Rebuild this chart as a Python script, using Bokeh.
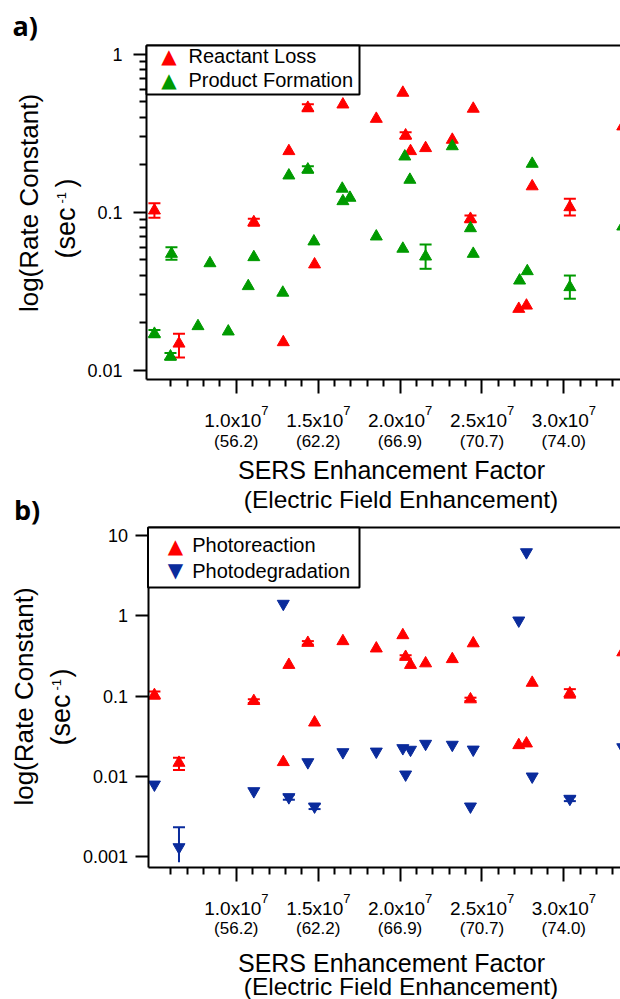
import math
from bokeh.plotting import figure
from bokeh.models import (Range1d, FixedTicker, CustomJSTickFormatter, Label, LinearAxis,
                          LogAxis, LogScale, BoxAnnotation, Whisker, TeeHead, ColumnDataSource,
                          Grid)
from bokeh.embed import file_html
from bokeh.resources import INLINE

SCALE = 1e7  # x values are given in units of 1e7 (SERS enhancement factor)

# ---------------- data ----------------
# Reactant loss (panel a) == photoreaction (panel b), red
loss_x = [0.50, 0.65, 1.107, 1.287, 1.321, 1.437, 1.478, 1.651, 1.855, 2.017, 2.034,
          2.064, 2.156, 2.319, 2.430, 2.447, 2.725, 2.772, 2.807, 3.037, 3.36]
loss_k = [0.1026, 0.0147, 0.0865, 0.0150, 0.244, 0.459, 0.0467, 0.482, 0.391, 0.572, 0.307,
          0.244, 0.255, 0.288, 0.0908, 0.453, 0.0244, 0.0256, 0.146, 0.1076, 0.35]
loss_err_x = [0.50, 0.65, 1.107, 1.437, 2.034, 2.430, 3.037]
loss_err_lo = [0.0922, 0.0120, 0.082, 0.436, 0.292, 0.0865, 0.0953]
loss_err_hi = [0.114, 0.0170, 0.091, 0.483, 0.322, 0.0953, 0.1217]

# Product formation (panel a), green
form_x = [0.50, 0.598, 0.604, 0.766, 0.839, 0.951, 1.073, 1.107, 1.284, 1.321, 1.437, 1.474,
          1.647, 1.651, 1.694, 1.855, 2.017, 2.029, 2.060, 2.156, 2.319, 2.430, 2.447, 2.730,
          2.777, 2.807, 3.037, 3.36]
form_k = [0.01696, 0.01218, 0.0545, 0.01896, 0.0475, 0.01754, 0.0340, 0.0519, 0.0309, 0.171,
          0.1866, 0.0653, 0.141, 0.1175, 0.1235, 0.0702, 0.0587, 0.2256, 0.1606, 0.0524, 0.262,
          0.0792, 0.0545, 0.0369, 0.0423, 0.2028, 0.0335, 0.0812]
form_err_x = [0.50, 0.598, 0.604, 1.437, 2.156, 3.037]
form_err_lo = [0.0161, 0.0116, 0.0500, 0.178, 0.0438, 0.0283]
form_err_hi = [0.0179, 0.0128, 0.0600, 0.196, 0.0625, 0.0397]

# Photodegradation (panel b), blue
degr_x = [0.50, 0.65, 1.107, 1.287, 1.321, 1.437, 1.478, 1.651, 1.855, 2.017, 2.034,
          2.064, 2.156, 2.319, 2.430, 2.447, 2.725, 2.772, 2.807, 3.037, 3.36]
degr_k = [0.00788, 0.001306, 0.00652, 1.41, 0.00548, 0.01496, 0.0042, 0.01995, 0.0203, 0.0224,
          0.01052, 0.0214, 0.0254, 0.0247, 0.0042, 0.0215, 0.873, 6.19, 0.00993, 0.00524, 0.023]
degr_err_x = [1.321, 1.478, 3.037]
degr_err_lo = [0.0051, 0.0039, 0.0049]
degr_err_hi = [0.0059, 0.0045, 0.0056]
degr_bar_x = [0.65]
degr_bar_lo = [0.00085]
degr_bar_hi = [0.00232]

# ticks / labels
xtick_e7 = [1.0, 1.5, 2.0, 2.5, 3.0]
xtick_factor = ["1.0x10", "1.5x10", "2.0x10", "2.5x10", "3.0x10"]
xtick_exp = ["7", "7", "7", "7", "7"]
xtick_field = ["(56.2)", "(62.2)", "(66.9)", "(70.7)", "(74.0)"]
xminor_e7 = [0.6, 0.7, 0.8, 0.9, 1.1, 1.2, 1.3, 1.4, 1.6, 1.7, 1.8, 1.9, 2.1, 2.2, 2.3, 2.4,
             2.6, 2.7, 2.8, 2.9, 3.1, 3.2, 3.3]
ya_major = [0.01, 0.1, 1]
ya_minor = [0.02, 0.03, 0.04, 0.05, 0.06, 0.07, 0.08, 0.09,
            0.2, 0.3, 0.4, 0.5, 0.6, 0.7, 0.8, 0.9]
yb_major = [0.001, 0.01, 0.1, 1, 10]

legend_a = ["Reactant Loss", "Product Formation"]
legend_b = ["Photoreaction", "Photodegradation"]
x_title = ["SERS Enhancement Factor", "(Electric Field Enhancement)"]
y_title = "log(Rate Constant)"

RED = "#FF0000"
GREEN = "#009A00"
BLUE = "#0A2B9C"
FONT = "Liberation Sans"
W, H = 620, 999


# ---------------- pixel <-> data helpers (layout only) ----------------
def xs(px):
    return (1 + (px - 235.8) / 163.75) * SCALE


def ya(py):  # panel a log scale: 1 at y=54, 0.01 at y=369.5
    return 10 ** (-(py - 54) / 157.75)


def yb(py):  # panel b log scale: 10 at y=535, 0.001 at y=856
    return 10 ** (1 - (py - 535) / 80.25)


p = figure(width=W, height=H, x_range=Range1d(xs(0), xs(W)), y_range=Range1d(ya(H), ya(0)),
           y_axis_type="log", x_axis_location=None, y_axis_location=None,
           output_backend="svg", toolbar_location=None, min_border=0,
           outline_line_color=None)
p.title.visible = False
for g in p.select(type=Grid):
    g.visible = False
p.renderers = [r for r in p.renderers if not isinstance(r, Grid)]
p.extra_y_ranges = {"b": Range1d(yb(H), yb(0))}
p.extra_y_scales = {"b": LogScale()}


def style_axis(ax, tout, mout, minor=True):
    ax.axis_line_color = "black"
    ax.axis_line_width = 2
    ax.major_tick_line_color = "black"
    ax.major_tick_line_width = 2
    ax.minor_tick_line_color = "black" if minor else None
    ax.minor_tick_line_width = 2
    ax.major_tick_in = 0
    ax.major_tick_out = tout
    ax.minor_tick_in = 0
    ax.minor_tick_out = mout


def build_axes(rname, yfun, left_px, top_px, bottom_px, y_major, y_minor, standoff):
    # left (log) axis
    yax = LogAxis(y_range_name=rname, fixed_location=xs(left_px),
                  bounds=(yfun(bottom_px), yfun(top_px)),
                  ticker=FixedTicker(ticks=y_major, minor_ticks=y_minor),
                  formatter=CustomJSTickFormatter(code="return String(+tick.toPrecision(3));"))
    style_axis(yax, 13, 7, minor=bool(y_minor))
    yax.major_label_text_font = FONT
    yax.major_label_text_font_size = "18px"
    yax.major_label_text_color = "black"
    yax.major_label_standoff = standoff
    p.add_layout(yax, "left")
    # bottom axis (ticks + field-enhancement labels)
    xax = LinearAxis(y_range_name=rname, fixed_location=yfun(bottom_px),
                     bounds=(xs(left_px), xs(W)),
                     ticker=FixedTicker(ticks=[v * SCALE for v in xtick_e7],
                                        minor_ticks=[v * SCALE for v in xminor_e7]),
                     formatter=CustomJSTickFormatter(args=dict(labels=xtick_field),
                                                     code="return labels[index];"))
    style_axis(xax, 14, 7)
    xax.major_label_text_font = FONT
    xax.major_label_text_font_size = "17px"
    xax.major_label_text_color = "black"
    xax.major_label_standoff = 38
    p.add_layout(xax, "below")
    # top frame line
    tax = LinearAxis(y_range_name=rname, fixed_location=yfun(top_px),
                     bounds=(xs(left_px), xs(W)), ticker=FixedTicker(ticks=[]))
    style_axis(tax, 0, 0, minor=False)
    p.add_layout(tax, "above")


def add_err(xv, lo, hi, color, rname="default", lower_head=True):
    src = ColumnDataSource(dict(x=[v * SCALE for v in xv], lo=lo, hi=hi))
    p.add_layout(Whisker(source=src, base="x", lower="lo", upper="hi", dimension="height",
                         y_range_name=rname, line_color=color, line_width=2,
                         upper_head=TeeHead(size=12, line_color=color, line_width=2),
                         lower_head=(TeeHead(size=12, line_color=color, line_width=2)
                                     if lower_head else None)))


def put(X, Y, text, size, font=FONT, color="black", align="left", style="normal",
        angle=0.0):
    # X, Y: page pixels (Y = visual middle of the text line)
    p.add_layout(Label(x=X, y=H - Y, x_units="screen", y_units="screen", text=text,
                       text_font=font, text_font_size=f"{size}px", text_color=color,
                       text_align=align, text_baseline="middle", text_font_style=style,
                       angle=angle))


def put_xticks(base_mid, sup_mid):
    for v, f, e in zip(xtick_e7, xtick_factor, xtick_exp):
        p.add_layout(Label(x=v * SCALE, x_units="data", y=H - base_mid, y_units="screen",
                           x_offset=-3.5, text=f, text_font=FONT, text_font_size="19px",
                           text_align="center", text_baseline="middle", text_color="black"))
        p.add_layout(Label(x=v * SCALE, x_units="data", y=H - sup_mid, y_units="screen",
                           x_offset=25, text=e, text_font=FONT, text_font_size="13px",
                           text_align="left", text_baseline="middle", text_color="black"))


def legend_box(left_px, right_px, top_px, bottom_px):
    p.add_layout(BoxAnnotation(left=xs(left_px), right=xs(right_px), top=ya(top_px),
                               bottom=ya(bottom_px), fill_color="white", fill_alpha=1.0,
                               line_color="black", line_alpha=1.0, line_width=2))


# ---------------- panel a ----------------
build_axes("default", ya, 146, 45, 379, ya_major, ya_minor, 11)
add_err(loss_err_x, loss_err_lo, loss_err_hi, RED)
add_err(form_err_x, form_err_lo, form_err_hi, GREEN)
p.scatter([v * SCALE for v in loss_x], loss_k, marker="triangle", size=12,
          fill_color=RED, line_color=RED, line_width=1)
p.scatter([v * SCALE for v in form_x], form_k, marker="triangle", size=12,
          fill_color=GREEN, line_color=GREEN, line_width=1)

legend_box(146, 359, 45, 94)
put(168.5, 55.8, "\u25B2", 20, font="DejaVu Sans", color=RED, align="center")
put(168.5, 79.2, "\u25B2", 20, font="DejaVu Sans", color=GREEN, align="center")
put(188, 55.7, legend_a[0], 20)
put(188, 79.0, legend_a[1], 20)

put_xticks(420.4, 410.4)
put(391, 469.3, x_title[0], 25, align="center")
put(400.5, 498.6, x_title[1], 24.5, align="center")

put(28.4, 202.5, y_title, 26, align="center", angle=math.pi / 2)
put(65.0, 258, "(sec", 27, angle=math.pi / 2)
put(60.5, 203, "-1", 13, angle=math.pi / 2)
put(65.0, 187, ")", 27, angle=math.pi / 2)

put(12, 24.8, "a)", 27, font="Open Sans", style="bold")

# ---------------- panel b ----------------
build_axes("b", yb, 147.5, 527, 866.7, yb_major, [], 7)
add_err(loss_err_x, loss_err_lo, loss_err_hi, RED, rname="b")
add_err(degr_err_x, degr_err_lo, degr_err_hi, BLUE, rname="b")
add_err(degr_bar_x, degr_bar_lo, degr_bar_hi, BLUE, rname="b", lower_head=False)
p.scatter([v * SCALE for v in loss_x], loss_k, marker="triangle", size=12,
          fill_color=RED, line_color=RED, line_width=1, y_range_name="b")
p.scatter([v * SCALE for v in degr_x], degr_k, marker="inverted_triangle", size=12,
          fill_color=BLUE, line_color=BLUE, line_width=1, y_range_name="b")

legend_box(147.5, 359, 527, 587)
put(175, 545, "\u25B2", 20, font="DejaVu Sans", color=RED, align="center")
put(175, 569.5, "\u25BC", 20, font="DejaVu Sans", color=BLUE, align="center")
put(191.7, 544.7, legend_b[0], 20)
put(191.7, 570.3, legend_b[1], 20)

put_xticks(908.0, 898.1)
put(391, 962.3, x_title[0], 25, align="center")
put(400.5, 985.5, x_title[1], 24.5, align="center")

put(23.4, 696, y_title, 26, align="center", angle=math.pi / 2)
put(60.0, 745, "(sec", 27, angle=math.pi / 2)
put(55.5, 690, "-1", 13, angle=math.pi / 2)
put(60.0, 677, ")", 27, angle=math.pi / 2)

put(13.5, 508.8, "b)", 27, font="Open Sans", style="bold")

open("out.html", "w").write(file_html(p, INLINE))
